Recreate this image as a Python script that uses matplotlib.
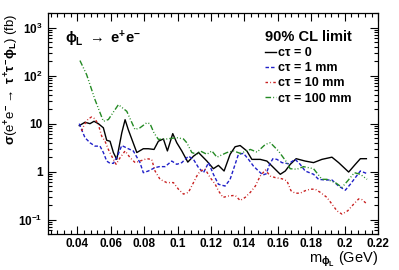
import numpy as np
import matplotlib
matplotlib.use('Agg')
from matplotlib import pyplot as plt
from matplotlib.ticker import LogLocator, MultipleLocator, NullFormatter

plt.rcParams['font.family'] = ['Liberation Sans', 'DejaVu Sans']
plt.rcParams['font.weight'] = 'bold'
plt.rcParams['mathtext.fontset'] = 'custom'
plt.rcParams['mathtext.rm'] = 'Liberation Sans:bold'
plt.rcParams['mathtext.it'] = 'Liberation Sans:bold'
plt.rcParams['mathtext.bf'] = 'Liberation Sans:bold'
plt.rcParams['mathtext.fallback'] = 'stix'

# limits, one (x, y) set per lifetime
x_ct0 = [0.0412, 0.0446, 0.0476, 0.0500, 0.0526, 0.0556, 0.0576, 0.0596, 0.0616, 0.0636,
         0.0651, 0.0666, 0.0686, 0.0705, 0.0756, 0.0795, 0.0825, 0.0859, 0.0885, 0.0915,
         0.0939, 0.0971, 0.0995, 0.1025, 0.1061, 0.1095, 0.1125, 0.1175, 0.1214, 0.1244,
         0.1278, 0.1314, 0.1344, 0.1374, 0.1414, 0.1444, 0.1494, 0.1534, 0.1574, 0.1614,
         0.1644, 0.1674, 0.1709, 0.1763, 0.1813, 0.1863, 0.1923, 0.1963, 0.2023, 0.2063,
         0.2093, 0.2129]
y_ct0 = [9.1, 10.7, 10.0, 11.2, 10.0, 8.2, 4.5, 4.3, 2.5, 1.8,
         3.4, 6.4, 12.1, 7.5, 2.5, 3.0, 3.0, 2.9, 4.3, 4.8,
         2.7, 6.2, 4.0, 2.7, 1.58, 2.1, 2.5, 1.66, 1.15, 1.35,
         1.03, 2.3, 3.3, 3.5, 2.7, 1.8, 1.8, 1.66, 1.21, 0.88,
         1.03, 1.42, 1.86, 1.66, 1.54, 1.8, 2.0, 1.54, 0.98, 1.42,
         1.86, 1.86]

x_ct1 = [0.0412, 0.0426, 0.0446, 0.0476, 0.0506, 0.0536, 0.0556, 0.0576, 0.0596, 0.0616,
         0.0640, 0.0666, 0.0705, 0.0735, 0.0775, 0.0795, 0.0825, 0.0865, 0.0891, 0.0925,
         0.0965, 0.0995, 0.1025, 0.1065, 0.1095, 0.1125, 0.1155, 0.1185, 0.1214, 0.1244,
         0.1284, 0.1314, 0.1344, 0.1364, 0.1394, 0.1424, 0.1454, 0.1484, 0.1510, 0.1530,
         0.1550, 0.1570, 0.1594, 0.1624, 0.1664, 0.1703, 0.1733, 0.1763, 0.1813, 0.1843,
         0.1883, 0.1923, 0.1963, 0.2003, 0.2033, 0.2063, 0.2093, 0.2129]
y_ct1 = [10.0, 7.5, 5.1, 4.0, 3.4, 3.4, 2.5, 1.66, 1.49, 1.49,
         2.1, 3.5, 3.0, 2.7, 1.54, 0.95, 1.03, 1.21, 1.27, 1.27,
         1.66, 1.42, 1.54, 2.1, 1.8, 1.21, 0.95, 1.54, 0.88, 0.545,
         0.50, 0.69, 1.42, 2.3, 2.4, 1.8, 1.30, 1.03, 0.85, 0.9,
         1.42, 1.86, 1.8, 1.54, 1.46, 1.8, 1.42, 1.03, 0.88, 0.69,
         0.67, 0.67, 0.50, 0.41, 0.545, 0.75, 1.03, 0.92]

x_ct10 = [0.0426, 0.0442, 0.0466, 0.0486, 0.0506, 0.0526, 0.0546, 0.0566, 0.0586, 0.0606,
          0.0632, 0.0656, 0.0686, 0.0716, 0.0746, 0.0775, 0.0815, 0.0845, 0.0865, 0.0895,
          0.0935, 0.0975, 0.1005, 0.1035, 0.1065, 0.1095, 0.1115, 0.1135, 0.1165, 0.1195,
          0.1225, 0.1244, 0.1271, 0.1304, 0.1344, 0.1374, 0.1404, 0.1435, 0.1465, 0.1494,
          0.1525, 0.1554, 0.1584, 0.1624, 0.1654, 0.1678, 0.1703, 0.1733, 0.1763, 0.1793,
          0.1823, 0.1853, 0.1893, 0.1923, 0.1953, 0.1983, 0.2017, 0.2053, 0.2083, 0.2103,
          0.2133]
y_ct10 = [7.0, 9.6, 12.6, 13.8, 12.6, 9.6, 5.5, 4.3, 2.9, 2.1,
          1.42, 1.95, 2.7, 1.95, 1.54, 1.66, 1.86, 1.8, 1.03, 0.69,
          0.59, 0.59, 0.43, 0.34, 0.37, 0.59, 0.81, 1.03, 1.12, 0.75,
          0.545, 0.40, 0.29, 0.31, 0.32, 0.25, 0.29, 0.37, 0.50, 0.81,
          1.08, 0.81, 0.75, 0.71, 0.64, 0.40, 0.355, 0.355, 0.40, 0.43,
          0.43, 0.37, 0.29, 0.21, 0.152, 0.13, 0.152, 0.21, 0.27, 0.26,
          0.21]

x_ct100 = [0.0416, 0.0456, 0.0506, 0.0556, 0.0586, 0.0646, 0.0696, 0.0745, 0.0775, 0.0815,
           0.0835, 0.0859, 0.0885, 0.0935, 0.0995, 0.1035, 0.1055, 0.1085, 0.1115, 0.1135,
           0.1175, 0.1205, 0.1235, 0.1295, 0.1335, 0.1375, 0.1435, 0.1475, 0.1525, 0.1555,
           0.1604, 0.1654, 0.1673, 0.1713, 0.1753, 0.1813, 0.1863, 0.1893, 0.1943, 0.1983,
           0.2017, 0.2057, 0.2093, 0.2133]
y_ct100 = [207, 105, 31.6, 11.2, 12.2, 24.9, 18.1, 7.55, 8.2, 10.4,
           10.0, 6.4, 4.7, 4.8, 5.1, 4.8, 4.0, 2.5, 2.3, 2.7,
           2.3, 2.7, 2.0, 2.5, 2.7, 2.4, 2.9, 2.55, 3.7, 4.0,
           2.67, 1.54, 1.15, 1.12, 1.27, 1.15, 0.69, 0.69, 0.59, 0.47,
           0.64, 0.95, 0.88, 0.69]

labels = ['cτ = 0', 'cτ = 1 mm', 'cτ = 10 mm', 'cτ = 100 mm']
ytick_vals = [0.1, 1, 10, 100, 1000]
ytick_labels = [r'$10^{-1}$', '1', '10', r'$10^{2}$', r'$10^{3}$']
xtick_vals = [0.04, 0.06, 0.08, 0.10, 0.12, 0.14, 0.16, 0.18, 0.20, 0.22]
xtick_labels = ['0.04', '0.06', '0.08', '0.1', '0.12', '0.14', '0.16', '0.18', '0.2', '0.22']

fig = plt.figure(figsize=(3.99, 2.70), dpi=100)
ax = fig.add_axes([0.1195, 0.1333, 0.948 - 0.1195, 0.9507 - 0.1333])

lw = 1.0
l0, = ax.plot(x_ct0, y_ct0, color='black', lw=lw, ls='-')
l1, = ax.plot(x_ct1, y_ct1, color='#2020c8', lw=lw, ls=(0, (2.5, 1.5)))
l2, = ax.plot(x_ct10, y_ct10, color='#c82020', lw=lw, ls=(0, (1.8, 1.6, 0.6, 1.6)))
l3, = ax.plot(x_ct100, y_ct100, color='#248a24', lw=lw, ls=(0, (4, 1.5, 0.7, 1.5, 0.7, 1.5)))

ax.set_yscale('log')
ax.set_xlim(0.0223, 0.22)
ax.set_ylim(0.05, 2000)

ax.set_xticks(xtick_vals, xtick_labels)
ax.xaxis.set_minor_locator(MultipleLocator(0.004))
ax.set_yticks(ytick_vals, ytick_labels)
ax.yaxis.set_minor_locator(LogLocator(base=10, subs=np.arange(2, 10)))
ax.yaxis.set_minor_formatter(NullFormatter())

ax.tick_params(which='both', direction='in', top=True, right=True, width=0.8, labelsize=8.5)
ax.tick_params(which='major', length=5.5)
ax.tick_params(which='minor', length=2.8)
ax.tick_params(axis='x', pad=3)
ax.tick_params(axis='y', pad=3.5)
for s in ax.spines.values():
    s.set_linewidth(0.9)

ax.set_ylabel(r'$\sigma$(e$^{+}$e$^{-}$$\rightarrow$ $\tau^{+}\tau^{-}\phi_{L}$) (fb)', loc='top', fontsize=9.5)
ax.yaxis.set_label_coords(-0.082, 1.0)
ax.set_xlabel(r'm$_{\phi_{L}}$ (GeV)', loc='right', fontsize=10.5)
ax.xaxis.set_label_coords(1.0, -0.07)

fig.text(65 / 399, 1 - 29 / 270, r'$\phi_{L}$ $\rightarrow$ e$^{+}$e$^{-}$', fontsize=10.5, va='top', ha='left')

ax.legend([l0, l1, l2, l3], labels, loc='upper left',
          bbox_to_anchor=(265 / 399, 1 - 30 / 270), bbox_transform=fig.transFigure,
          frameon=False, borderpad=0, borderaxespad=0, handlelength=0.85,
          handletextpad=0.15, labelspacing=0.25, fontsize=9,
          title='90% CL limit', title_fontproperties={'weight': 'bold', 'size': 10.5},
          alignment='left')

fig.savefig('out.png', dpi=100)
